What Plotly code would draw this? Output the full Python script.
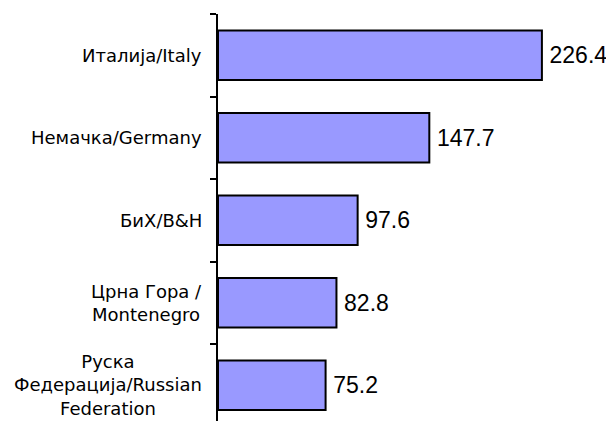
import plotly.graph_objects as go

categories = ["Италија/Italy", "Немачка/Germany", "БиХ/B&H",
              "Црна Гора /<br>Montenegro", "Руска<br>Федерација/Russian<br>Federation"]
values = [226.4, 147.7, 97.6, 82.8, 75.2]
value_labels = ["226.4", "147.7", "97.6", "82.8", "75.2"]

fig = go.Figure()
fig.add_trace(go.Bar(
    y=list(range(len(categories))), x=values, orientation="h",
    marker=dict(color="#9999FF", line=dict(color="black", width=2)),
    width=0.6,
    text=value_labels, texttemplate="\u2009%{text}", textposition="outside",
    textfont=dict(family="Liberation Sans, Arial", size=23, color="black"),
    cliponaxis=False,
))

for i, c in enumerate(categories):
    fig.add_annotation(
        x=0, xref="paper", y=i, yref="y", text=c, showarrow=False,
        xanchor="right", yanchor="middle", align="center", xshift=-14,
        font=dict(family="DejaVu Sans", size=18, color="black"),
    )

# page body adds an 8px offset, so the figure is sized/margined to compensate
fig.update_layout(
    template="none",
    width=606, height=413,
    margin=dict(l=210, r=14, t=6, b=0, autoexpand=False),
    plot_bgcolor="white", paper_bgcolor="white",
    showlegend=False,
    xaxis=dict(range=[0, 267], visible=False, automargin=False),
    yaxis=dict(range=[4.433, -0.5], tickmode="array", automargin=False,
               tickvals=[-0.5, 0.5, 1.5, 2.5, 3.5], ticktext=[""] * 5,
               ticks="outside", ticklen=6, tickwidth=1.5, tickcolor="black",
               showline=True, linecolor="black", linewidth=2,
               showgrid=False, zeroline=False),
)

fig.write_html("out.html")
